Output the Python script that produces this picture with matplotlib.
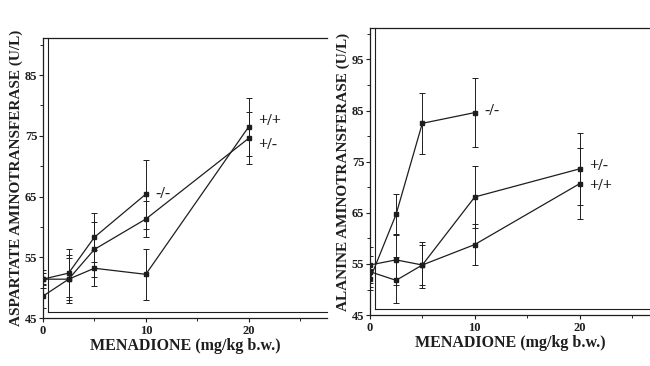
import matplotlib
matplotlib.use("Agg")
import matplotlib.pyplot as plt
from matplotlib.ticker import MultipleLocator

doses = [0, 2.5, 5, 10, 20]
doses_ko = [0, 2.5, 5, 10]

# Aspartate aminotransferase (U/L)
ast_ko = [51.4, 52.4, 58.3, 65.4]
ast_ko_err = [1.0, 4.0, 4.0, 5.7]
ast_het = [48.6, 51.4, 56.3, 61.3, 74.6]
ast_het_err = [2.0, 4.0, 4.5, 3.0, 4.3]
ast_wt = [51.4, 51.4, 53.2, 52.2, 76.5]
ast_wt_err = [1.5, 3.5, 3.0, 4.2, 4.8]

# Alanine aminotransferase (U/L)
alt_ko = [52.0, 64.7, 82.5, 84.6]
alt_ko_err = [2.0, 4.0, 6.0, 6.8]
alt_het = [53.5, 51.8, 54.8, 68.1, 73.6]
alt_het_err = [3.0, 4.5, 4.5, 6.0, 7.0]
alt_wt = [54.8, 55.8, 54.8, 58.8, 70.7]
alt_wt_err = [3.5, 5.0, 4.0, 4.0, 7.0]

xticks = [0, 10, 20]
ast_yticks = [45, 55, 65, 75, 85]
alt_yticks = [45, 55, 65, 75, 85, 95]

plt.rcParams['font.family'] = ['Liberation Serif', 'DejaVu Serif']
plt.rcParams['font.weight'] = 'bold'

fig = plt.figure(figsize=(6.5, 3.66), dpi=100)
ax1 = fig.add_axes([0.066, 0.131, 0.437, 0.765])
ax2 = fig.add_axes([0.569, 0.139, 0.431, 0.784])

col = '#1e1e1e'

def draw(ax, series, ylim, xlim, yticks, ylabel, labels):
    for (x, y, e) in series:
        ax.errorbar(x, y, yerr=e, color=col, lw=0.9, elinewidth=0.7,
                    capsize=2, capthick=0.7, marker='s', ms=3,
                    mfc=col, mec=col)
    for (txt, x, y, dy) in labels:
        ax.annotate(txt, (x, y), xytext=(7, dy), textcoords='offset points',
                    va='center', ha='left', fontsize=11.5, fontweight='bold',
                    color=col)
    ax.set_xlim(*xlim)
    ax.set_ylim(*ylim)
    ax.set_xticks(xticks)
    ax.set_yticks(yticks)
    ax.xaxis.set_minor_locator(MultipleLocator(5))
    ax.yaxis.set_minor_locator(MultipleLocator(5))
    ax.tick_params(axis='both', labelsize=9, length=3, width=0.8, colors=col)
    ax.tick_params(axis='both', which='minor', length=2, width=0.6)
    ax.tick_params(axis='x', pad=2)
    ax.tick_params(axis='y', pad=1)
    for lab in ax.get_xticklabels() + ax.get_yticklabels():
        lab.set_fontweight('bold')
    ax.set_xlabel('MENADIONE (mg/kg b.w.)', fontsize=11.5, fontweight='bold',
                  labelpad=1, color=col)
    ax.set_ylabel(ylabel, fontsize=11, fontweight='bold', labelpad=1,
                  color=col)
    for s in ['left', 'bottom', 'top']:
        ax.spines[s].set_linewidth(0.9)
        ax.spines[s].set_color(col)
    ax.spines['right'].set_visible(False)
    # pseudo-3D inner wall lines
    ax.plot([0.018, 0.018], [0.02, 1.0], transform=ax.transAxes, color=col,
            lw=0.8, clip_on=False)
    ax.plot([0.018, 1.0], [0.02, 0.02], transform=ax.transAxes, color=col,
            lw=0.8, clip_on=False)

draw(ax1,
     [(doses_ko, ast_ko, ast_ko_err), (doses, ast_het, ast_het_err),
      (doses, ast_wt, ast_wt_err)],
     (45, 91.1), (0, 27.6), ast_yticks,
     'ASPARTATE AMINOTRANSFERASE (U/L)',
     [('-/-', doses_ko[-1], ast_ko[-1], 0), ('+/+', doses[-1], ast_wt[-1], 4),
      ('+/-', doses[-1], ast_het[-1], -4.5)])

draw(ax2,
     [(doses_ko, alt_ko, alt_ko_err), (doses, alt_het, alt_het_err),
      (doses, alt_wt, alt_wt_err)],
     (45, 101.1), (0, 26.7), alt_yticks,
     'ALANINE AMINOTRANSFERASE (U/L)',
     [('-/-', doses_ko[-1], alt_ko[-1], 1), ('+/-', doses[-1], alt_het[-1], 2),
      ('+/+', doses[-1], alt_wt[-1], -1.5)])

fig.savefig('out.png', dpi=100)
